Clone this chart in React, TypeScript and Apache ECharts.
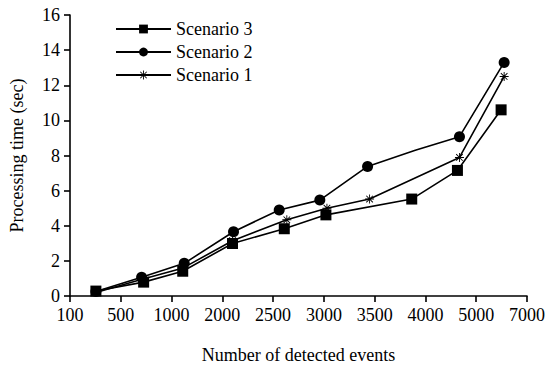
import React, { useEffect, useRef } from "react";
import * as echarts from "echarts";

const xTickLabels = ["100", "500", "1000", "2000", "2500", "3000", "3500", "4000", "5000", "7000"];

// positions along the (irregular) event axis, in tick-index units
const s3X = [0.51, 1.45, 2.22, 3.2, 4.22, 5.04, 6.73, 7.63, 8.49];
const s3Y = [0.28, 0.79, 1.41, 2.99, 3.83, 4.62, 5.52, 7.15, 10.6];

const s2X = [0.51, 1.41, 2.25, 3.22, 4.12, 4.92, 5.86, 6.8, 7.67, 8.55];
const s2Y = [0.25, 1.07, 1.86, 3.66, 4.9, 5.46, 7.38, 8.3, 9.07, 13.3];
const s2Marked = [true, true, true, true, true, true, true, false, true, true];

const s1X = [0.51, 1.42, 2.23, 3.2, 4.27, 5.06, 5.9, 7.67, 8.55];
const s1Y = [0.2, 0.95, 1.6, 3.15, 4.34, 5.0, 5.52, 7.89, 12.5];

const asterisk =
  "path://M4.5 0L5.5 0L5.5 10L4.5 10Z M0 4.5L10 4.5L10 5.5L0 5.5Z M1 1.7L1.7 1L9 8.3L8.3 9Z M8.3 1L9 1.7L1.7 9L1 8.3Z";

const FONT = "'Liberation Serif'";

export default function App() {
  const ref = useRef<HTMLDivElement>(null);
  useEffect(() => {
    if (!ref.current) return;
    const chart = echarts.init(ref.current, null, { renderer: "svg" });
    const lineStyle = { color: "#000", width: 1.6 };
    chart.setOption({
      animation: false,
      backgroundColor: "#fff",
      textStyle: { fontFamily: FONT, color: "#000" },
      grid: { left: 68, right: 25, top: 15, bottom: 70 },
      legend: {
        orient: "vertical",
        left: 110,
        top: 15,
        itemWidth: 55,
        itemHeight: 11,
        itemGap: 5,
        textStyle: { fontFamily: FONT, fontSize: 18, color: "#000" },
        data: ["Scenario 3", "Scenario 2", "Scenario 1"],
      },
      xAxis: {
        type: "value",
        min: 0,
        max: 9,
        interval: 1,
        name: "Number of detected events",
        nameLocation: "middle",
        nameGap: 50,
        nameTextStyle: { fontFamily: FONT, fontSize: 18, color: "#000" },
        splitLine: { show: false },
        axisLine: { lineStyle: { color: "#000", width: 1.6 } },
        axisTick: { show: true, inside: false, length: 6, lineStyle: { color: "#000", width: 1.6 } },
        axisLabel: {
          fontFamily: FONT,
          fontSize: 18,
          color: "#000",
          margin: 10,
          formatter: (v: number) => xTickLabels[Math.round(v)] ?? "",
        },
      },
      yAxis: {
        type: "value",
        min: 0,
        max: 16,
        interval: 2,
        name: "Processing time (sec)",
        nameLocation: "middle",
        nameGap: 44,
        nameTextStyle: { fontFamily: FONT, fontSize: 18, color: "#000" },
        splitLine: { show: false },
        axisLine: { show: true, lineStyle: { color: "#000", width: 1.6 } },
        axisTick: { show: true, inside: false, length: 6, lineStyle: { color: "#000", width: 1.6 } },
        axisLabel: { fontFamily: FONT, fontSize: 18, color: "#000", margin: 10 },
      },
      series: [
        {
          name: "Scenario 3",
          type: "line",
          symbol: "rect",
          symbolSize: 11,
          itemStyle: { color: "#000" },
          lineStyle,
          data: s3X.map((x, i) => [x, s3Y[i]]),
        },
        {
          name: "Scenario 2",
          type: "line",
          symbol: "circle",
          symbolSize: 11,
          itemStyle: { color: "#000" },
          lineStyle,
          data: s2X.map((x, i) =>
            s2Marked[i] ? { value: [x, s2Y[i]] } : { value: [x, s2Y[i]], symbol: "none" }
          ),
        },
        {
          name: "Scenario 1",
          type: "line",
          symbol: asterisk,
          symbolSize: 9,
          itemStyle: { color: "#000" },
          lineStyle,
          data: s1X.map((x, i) => [x, s1Y[i]]),
        },
      ],
    });
    return () => chart.dispose();
  }, []);
  return (
    <div
      ref={ref}
      style={{ position: "fixed", left: 0, top: 0, width: 552, height: 369, background: "#fff" }}
    />
  );
}
